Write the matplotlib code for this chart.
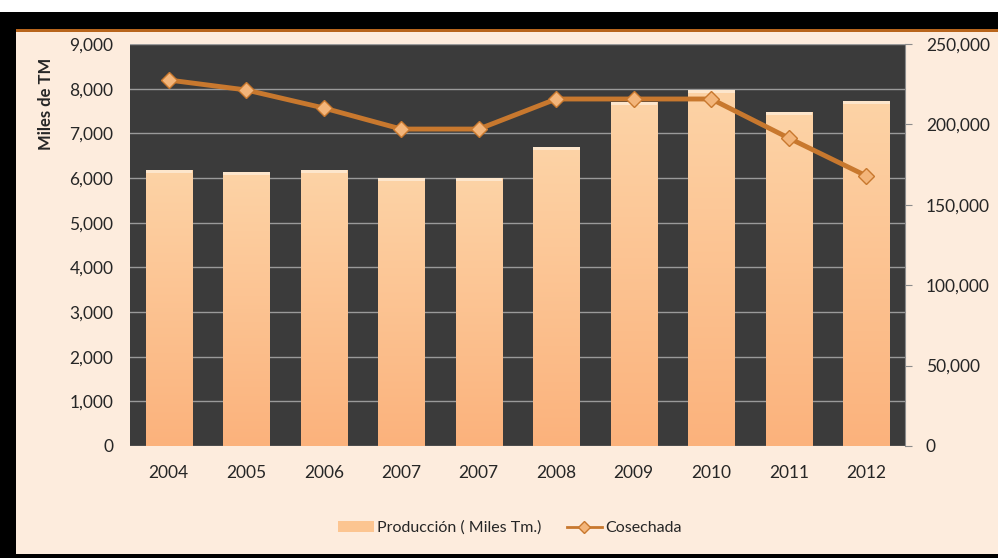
import numpy as np
import matplotlib
matplotlib.use('Agg')
import matplotlib.pyplot as plt
from matplotlib.patches import Rectangle
from matplotlib.lines import Line2D
from matplotlib.ticker import FuncFormatter

# data
years = ['2004', '2005', '2006', '2007', '2007', '2008', '2009', '2010', '2011', '2012']
produccion = [6180, 6130, 6180, 6000, 6000, 6690, 7700, 7970, 7480, 7720]
cosechada = [227600, 221400, 210200, 197100, 197100, 215800, 215800, 215800, 191500, 168000]

plt.rcParams['font.family'] = ['Lato', 'DejaVu Sans']

bg = '#fdecdd'
plot_bg = '#3b3b3b'
line_col = '#c8782e'
marker_col = '#f3b57a'
txt = '#262626'

fig = plt.figure(figsize=(9.98, 5.58), dpi=100)
fig.patch.set_facecolor('white')

# outer frame: black border, thin orange line on top, cream interior
fig.patches.append(Rectangle((0, 0), 1, 1 - 12/558, transform=fig.transFigure,
                             facecolor='black', edgecolor='none', zorder=-3))
fig.patches.append(Rectangle((16/998, 4/558), 1 - 16/998, 1 - 33/558,
                             transform=fig.transFigure, facecolor='#b8651c',
                             edgecolor='none', zorder=-2))
fig.patches.append(Rectangle((16/998, 4/558), 1 - 16/998, 1 - 36/558,
                             transform=fig.transFigure, facecolor=bg,
                             edgecolor='none', zorder=-1))

ax = fig.add_axes([130/998, 1 - 446/558, 775/998, 402/558])
ax.set_facecolor(plot_bg)
ax.set_yticks(np.arange(0, 9001, 1000))
ax.yaxis.set_major_formatter(FuncFormatter(lambda v, p: f'{int(v):,}'))
ax.grid(axis='y', color='#9a9a9a', linewidth=1.0)
ax.set_axisbelow(True)
ax.set_xticks(range(len(years)))
ax.set_xticklabels(years)
ax.tick_params(axis='both', length=0, labelsize=12.5, colors=txt, pad=12)
ax.tick_params(axis='x', pad=14)
for s in ax.spines.values():
    s.set_visible(False)
ax.set_ylabel('Miles de TM', fontsize=12, fontweight='bold', color=txt)
ax.yaxis.set_label_coords(-0.098, 0.85)

# bars with a vertical gradient
w = 0.6
grad = np.linspace(0, 1, 256).reshape(-1, 1)
cmap = matplotlib.colors.LinearSegmentedColormap.from_list('pe', ['#fbb27c', '#fdd3a6'])
bars = ax.bar(range(len(years)), produccion, width=w, color='#fcc591', zorder=2)
for b, v in zip(bars, produccion):
    x0 = b.get_x()
    im = ax.imshow(grad, extent=[x0, x0 + w, 0, v], origin='lower', aspect='auto',
                   cmap=cmap, zorder=3)
    im.set_clip_path(b)
    ax.add_patch(Rectangle((x0, v - 70), w, 70, facecolor='#fde6cc',
                           edgecolor='none', zorder=4))
ax.set_xlim(-0.5, len(years) - 0.5)
ax.set_ylim(0, 9000)

ax2 = ax.twinx()
ax2.set_ylim(0, 250000)
ax2.set_yticks(np.arange(0, 250001, 50000))
ax2.yaxis.set_major_formatter(FuncFormatter(lambda v, p: f'{int(v):,}'))
ax2.tick_params(axis='y', length=5, labelsize=12.5, pad=10,
                colors='#8c8c8c', labelcolor=txt)
for k, s in ax2.spines.items():
    s.set_visible(k == 'right')
ax2.spines['right'].set_color('#8c8c8c')
ax2.plot(range(len(years)), cosechada, color=line_col, linewidth=3.5, marker='D',
         markersize=8, markerfacecolor=marker_col, markeredgecolor=line_col,
         markeredgewidth=1, zorder=5)

# legend
h1 = Rectangle((0, 0), 1, 1, facecolor='#fcc591', edgecolor='none')
h2 = Line2D([], [], color=line_col, linewidth=2, marker='D', markersize=6,
            markerfacecolor=marker_col, markeredgecolor=line_col)
fig.legend([h1, h2], ['Producción ( Miles Tm.)', 'Cosechada'], loc='center',
           bbox_to_anchor=(510/998, 1 - 528/558), ncol=2, frameon=False,
           fontsize=11.5, handlelength=2.2, handletextpad=0.2, columnspacing=1.6,
           labelcolor=txt)

fig.savefig('out.png', dpi=100, facecolor=fig.get_facecolor())
